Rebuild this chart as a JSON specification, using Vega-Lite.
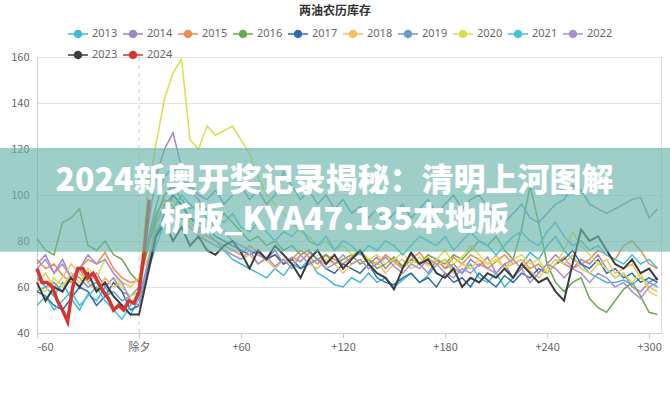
{
"$schema":"https://vega.github.io/schema/vega-lite/v6.json",
"autosize":{"type":"none"},
"padding":{"left":37,"top":57,"right":9,"bottom":67},
"width":624,"height":276,
"title":{"text":"两油农历库存","fontSize":12,"fontWeight":"bold","color":"#333","font":"Noto Sans CJK SC","anchor":"middle","dx":-14,"offset":6},
"config":{"view":{"stroke":"#dddddd"},"font":"Noto Sans CJK SC"},
"datasets":{
"lines":[
{"s":"2013","d":-60,"v":58},{"s":"2013","d":-55,"v":60},{"s":"2013","d":-50,"v":56},{"s":"2013","d":-45,"v":62},{"s":"2013","d":-40,"v":55},{"s":"2013","d":-35,"v":50},{"s":"2013","d":-30,"v":57},{"s":"2013","d":-25,"v":54},{"s":"2013","d":-20,"v":60},{"s":"2013","d":-15,"v":56},{"s":"2013","d":-10,"v":52},{"s":"2013","d":-5,"v":48},{"s":"2013","d":0,"v":55},
{"s":"2013","d":5,"v":70},{"s":"2013","d":10,"v":88},{"s":"2013","d":15,"v":96},{"s":"2013","d":20,"v":100},{"s":"2013","d":25,"v":95},{"s":"2013","d":30,"v":90},{"s":"2013","d":35,"v":86},{"s":"2013","d":40,"v":84},{"s":"2013","d":45,"v":80},{"s":"2013","d":50,"v":76},
{"s":"2013","d":55,"v":72},{"s":"2013","d":60,"v":70},{"s":"2013","d":65,"v":68},{"s":"2013","d":70,"v":66},{"s":"2013","d":75,"v":64},{"s":"2013","d":80,"v":68},{"s":"2013","d":85,"v":65},{"s":"2013","d":90,"v":70},{"s":"2013","d":95,"v":68},{"s":"2013","d":100,"v":72},
{"s":"2013","d":105,"v":66},{"s":"2013","d":110,"v":64},{"s":"2013","d":115,"v":61},{"s":"2013","d":120,"v":60},{"s":"2013","d":125,"v":64},{"s":"2013","d":130,"v":62},{"s":"2013","d":135,"v":66},{"s":"2013","d":140,"v":62},{"s":"2013","d":145,"v":64},{"s":"2013","d":150,"v":60},
{"s":"2013","d":155,"v":63},{"s":"2013","d":160,"v":66},{"s":"2013","d":165,"v":62},{"s":"2013","d":170,"v":65},{"s":"2013","d":175,"v":70},{"s":"2013","d":180,"v":72},{"s":"2013","d":185,"v":68},{"s":"2013","d":190,"v":66},{"s":"2013","d":195,"v":70},{"s":"2013","d":200,"v":64},
{"s":"2013","d":205,"v":62},{"s":"2013","d":210,"v":66},{"s":"2013","d":215,"v":60},{"s":"2013","d":220,"v":64},{"s":"2013","d":225,"v":70},{"s":"2013","d":230,"v":75},{"s":"2013","d":235,"v":72},{"s":"2013","d":240,"v":78},{"s":"2013","d":245,"v":82},{"s":"2013","d":250,"v":76},
{"s":"2013","d":255,"v":72},{"s":"2013","d":260,"v":70},{"s":"2013","d":265,"v":66},{"s":"2013","d":270,"v":64},{"s":"2013","d":275,"v":62},{"s":"2013","d":280,"v":62},{"s":"2013","d":285,"v":63},{"s":"2013","d":290,"v":61},{"s":"2013","d":295,"v":64},{"s":"2013","d":300,"v":62},{"s":"2013","d":305,"v":60},

{"s":"2014","d":-60,"v":70},{"s":"2014","d":-55,"v":74},{"s":"2014","d":-50,"v":66},{"s":"2014","d":-45,"v":72},{"s":"2014","d":-40,"v":64},{"s":"2014","d":-35,"v":68},{"s":"2014","d":-30,"v":62},{"s":"2014","d":-25,"v":66},{"s":"2014","d":-20,"v":60},{"s":"2014","d":-15,"v":64},{"s":"2014","d":-10,"v":58},{"s":"2014","d":-5,"v":56},{"s":"2014","d":0,"v":58},
{"s":"2014","d":5,"v":85},{"s":"2014","d":10,"v":108},{"s":"2014","d":15,"v":120},{"s":"2014","d":20,"v":127},{"s":"2014","d":25,"v":112},{"s":"2014","d":30,"v":102},{"s":"2014","d":35,"v":98},{"s":"2014","d":40,"v":92},{"s":"2014","d":45,"v":88},{"s":"2014","d":50,"v":84},
{"s":"2014","d":55,"v":80},{"s":"2014","d":60,"v":78},{"s":"2014","d":65,"v":76},{"s":"2014","d":70,"v":74},{"s":"2014","d":75,"v":72},{"s":"2014","d":80,"v":76},{"s":"2014","d":85,"v":70},{"s":"2014","d":90,"v":73},{"s":"2014","d":95,"v":71},{"s":"2014","d":100,"v":75},
{"s":"2014","d":105,"v":72},{"s":"2014","d":110,"v":70},{"s":"2014","d":115,"v":74},{"s":"2014","d":120,"v":68},{"s":"2014","d":125,"v":72},{"s":"2014","d":130,"v":75},{"s":"2014","d":135,"v":70},{"s":"2014","d":140,"v":73},{"s":"2014","d":145,"v":68},{"s":"2014","d":150,"v":72},
{"s":"2014","d":155,"v":69},{"s":"2014","d":160,"v":74},{"s":"2014","d":165,"v":70},{"s":"2014","d":170,"v":66},{"s":"2014","d":175,"v":72},{"s":"2014","d":180,"v":68},{"s":"2014","d":185,"v":70},{"s":"2014","d":190,"v":66},{"s":"2014","d":195,"v":72},{"s":"2014","d":200,"v":69},
{"s":"2014","d":205,"v":73},{"s":"2014","d":210,"v":66},{"s":"2014","d":215,"v":70},{"s":"2014","d":220,"v":64},{"s":"2014","d":225,"v":68},{"s":"2014","d":230,"v":72},{"s":"2014","d":235,"v":66},{"s":"2014","d":240,"v":70},{"s":"2014","d":245,"v":74},{"s":"2014","d":250,"v":70},
{"s":"2014","d":255,"v":68},{"s":"2014","d":260,"v":72},{"s":"2014","d":265,"v":70},{"s":"2014","d":270,"v":74},{"s":"2014","d":275,"v":68},{"s":"2014","d":280,"v":64},{"s":"2014","d":285,"v":66},{"s":"2014","d":290,"v":60},{"s":"2014","d":295,"v":58},{"s":"2014","d":300,"v":62},{"s":"2014","d":305,"v":64},

{"s":"2015","d":-60,"v":72},{"s":"2015","d":-55,"v":68},{"s":"2015","d":-50,"v":70},{"s":"2015","d":-45,"v":65},{"s":"2015","d":-40,"v":62},{"s":"2015","d":-35,"v":68},{"s":"2015","d":-30,"v":72},{"s":"2015","d":-25,"v":70},{"s":"2015","d":-20,"v":75},{"s":"2015","d":-15,"v":68},{"s":"2015","d":-10,"v":64},{"s":"2015","d":-5,"v":62},{"s":"2015","d":0,"v":63},
{"s":"2015","d":5,"v":78},{"s":"2015","d":10,"v":92},{"s":"2015","d":15,"v":98},{"s":"2015","d":20,"v":95},{"s":"2015","d":25,"v":90},{"s":"2015","d":30,"v":88},{"s":"2015","d":35,"v":85},{"s":"2015","d":40,"v":82},{"s":"2015","d":45,"v":80},{"s":"2015","d":50,"v":78},
{"s":"2015","d":55,"v":76},{"s":"2015","d":60,"v":74},{"s":"2015","d":65,"v":78},{"s":"2015","d":70,"v":75},{"s":"2015","d":75,"v":72},{"s":"2015","d":80,"v":74},{"s":"2015","d":85,"v":70},{"s":"2015","d":90,"v":72},{"s":"2015","d":95,"v":76},{"s":"2015","d":100,"v":73},
{"s":"2015","d":105,"v":70},{"s":"2015","d":110,"v":74},{"s":"2015","d":115,"v":72},{"s":"2015","d":120,"v":70},{"s":"2015","d":125,"v":73},{"s":"2015","d":130,"v":76},{"s":"2015","d":135,"v":72},{"s":"2015","d":140,"v":70},{"s":"2015","d":145,"v":74},{"s":"2015","d":150,"v":71},
{"s":"2015","d":155,"v":68},{"s":"2015","d":160,"v":72},{"s":"2015","d":165,"v":75},{"s":"2015","d":170,"v":70},{"s":"2015","d":175,"v":72},{"s":"2015","d":180,"v":68},{"s":"2015","d":185,"v":73},{"s":"2015","d":190,"v":70},{"s":"2015","d":195,"v":74},{"s":"2015","d":200,"v":72},
{"s":"2015","d":205,"v":68},{"s":"2015","d":210,"v":71},{"s":"2015","d":215,"v":74},{"s":"2015","d":220,"v":70},{"s":"2015","d":225,"v":72},{"s":"2015","d":230,"v":68},{"s":"2015","d":235,"v":70},{"s":"2015","d":240,"v":66},{"s":"2015","d":245,"v":70},{"s":"2015","d":250,"v":73},
{"s":"2015","d":255,"v":68},{"s":"2015","d":260,"v":70},{"s":"2015","d":265,"v":72},{"s":"2015","d":270,"v":76},{"s":"2015","d":275,"v":74},{"s":"2015","d":280,"v":72},{"s":"2015","d":285,"v":78},{"s":"2015","d":290,"v":80},{"s":"2015","d":295,"v":76},{"s":"2015","d":300,"v":70},{"s":"2015","d":305,"v":68},

{"s":"2016","d":-60,"v":81},{"s":"2016","d":-55,"v":76},{"s":"2016","d":-50,"v":74},{"s":"2016","d":-45,"v":88},{"s":"2016","d":-40,"v":90},{"s":"2016","d":-35,"v":94},{"s":"2016","d":-30,"v":78},{"s":"2016","d":-25,"v":76},{"s":"2016","d":-20,"v":80},{"s":"2016","d":-15,"v":74},{"s":"2016","d":-10,"v":72},{"s":"2016","d":-5,"v":66},{"s":"2016","d":0,"v":62},
{"s":"2016","d":5,"v":76},{"s":"2016","d":10,"v":90},{"s":"2016","d":15,"v":100},{"s":"2016","d":20,"v":104},{"s":"2016","d":25,"v":98},{"s":"2016","d":30,"v":94},{"s":"2016","d":35,"v":96},{"s":"2016","d":40,"v":90},{"s":"2016","d":45,"v":86},{"s":"2016","d":50,"v":92},
{"s":"2016","d":55,"v":88},{"s":"2016","d":60,"v":84},{"s":"2016","d":65,"v":80},{"s":"2016","d":70,"v":82},{"s":"2016","d":75,"v":78},{"s":"2016","d":80,"v":80},{"s":"2016","d":85,"v":76},{"s":"2016","d":90,"v":78},{"s":"2016","d":95,"v":74},{"s":"2016","d":100,"v":76},
{"s":"2016","d":105,"v":72},{"s":"2016","d":110,"v":74},{"s":"2016","d":115,"v":70},{"s":"2016","d":120,"v":72},{"s":"2016","d":125,"v":74},{"s":"2016","d":130,"v":70},{"s":"2016","d":135,"v":72},{"s":"2016","d":140,"v":68},{"s":"2016","d":145,"v":70},{"s":"2016","d":150,"v":73},
{"s":"2016","d":155,"v":69},{"s":"2016","d":160,"v":72},{"s":"2016","d":165,"v":70},{"s":"2016","d":170,"v":74},{"s":"2016","d":175,"v":72},{"s":"2016","d":180,"v":70},{"s":"2016","d":185,"v":74},{"s":"2016","d":190,"v":72},{"s":"2016","d":195,"v":76},{"s":"2016","d":200,"v":80},
{"s":"2016","d":205,"v":78},{"s":"2016","d":210,"v":82},{"s":"2016","d":215,"v":76},{"s":"2016","d":220,"v":72},{"s":"2016","d":225,"v":85},{"s":"2016","d":230,"v":104},{"s":"2016","d":235,"v":88},{"s":"2016","d":240,"v":70},{"s":"2016","d":245,"v":62},{"s":"2016","d":250,"v":58},
{"s":"2016","d":255,"v":62},{"s":"2016","d":260,"v":64},{"s":"2016","d":265,"v":55},{"s":"2016","d":270,"v":51},{"s":"2016","d":275,"v":49},{"s":"2016","d":280,"v":54},{"s":"2016","d":285,"v":59},{"s":"2016","d":290,"v":62},{"s":"2016","d":295,"v":56},{"s":"2016","d":300,"v":49},{"s":"2016","d":305,"v":48},

{"s":"2017","d":-60,"v":58},{"s":"2017","d":-55,"v":56},{"s":"2017","d":-50,"v":52},{"s":"2017","d":-45,"v":50},{"s":"2017","d":-40,"v":55},{"s":"2017","d":-35,"v":60},{"s":"2017","d":-30,"v":58},{"s":"2017","d":-25,"v":52},{"s":"2017","d":-20,"v":56},{"s":"2017","d":-15,"v":62},{"s":"2017","d":-10,"v":58},{"s":"2017","d":-5,"v":50},{"s":"2017","d":0,"v":52},
{"s":"2017","d":5,"v":68},{"s":"2017","d":10,"v":82},{"s":"2017","d":15,"v":92},{"s":"2017","d":20,"v":100},{"s":"2017","d":25,"v":96},{"s":"2017","d":30,"v":90},{"s":"2017","d":35,"v":88},{"s":"2017","d":40,"v":86},{"s":"2017","d":45,"v":82},{"s":"2017","d":50,"v":80},
{"s":"2017","d":55,"v":78},{"s":"2017","d":60,"v":76},{"s":"2017","d":65,"v":74},{"s":"2017","d":70,"v":76},{"s":"2017","d":75,"v":72},{"s":"2017","d":80,"v":74},{"s":"2017","d":85,"v":70},{"s":"2017","d":90,"v":72},{"s":"2017","d":95,"v":68},{"s":"2017","d":100,"v":70},
{"s":"2017","d":105,"v":72},{"s":"2017","d":110,"v":68},{"s":"2017","d":115,"v":66},{"s":"2017","d":120,"v":70},{"s":"2017","d":125,"v":68},{"s":"2017","d":130,"v":66},{"s":"2017","d":135,"v":70},{"s":"2017","d":140,"v":64},{"s":"2017","d":145,"v":62},{"s":"2017","d":150,"v":61},
{"s":"2017","d":155,"v":64},{"s":"2017","d":160,"v":66},{"s":"2017","d":165,"v":62},{"s":"2017","d":170,"v":64},{"s":"2017","d":175,"v":60},{"s":"2017","d":180,"v":66},{"s":"2017","d":185,"v":62},{"s":"2017","d":190,"v":64},{"s":"2017","d":195,"v":60},{"s":"2017","d":200,"v":66},
{"s":"2017","d":205,"v":63},{"s":"2017","d":210,"v":60},{"s":"2017","d":215,"v":65},{"s":"2017","d":220,"v":62},{"s":"2017","d":225,"v":66},{"s":"2017","d":230,"v":64},{"s":"2017","d":235,"v":68},{"s":"2017","d":240,"v":66},{"s":"2017","d":245,"v":70},{"s":"2017","d":250,"v":72},
{"s":"2017","d":255,"v":76},{"s":"2017","d":260,"v":70},{"s":"2017","d":265,"v":68},{"s":"2017","d":270,"v":72},{"s":"2017","d":275,"v":66},{"s":"2017","d":280,"v":68},{"s":"2017","d":285,"v":64},{"s":"2017","d":290,"v":66},{"s":"2017","d":295,"v":62},{"s":"2017","d":300,"v":64},{"s":"2017","d":305,"v":62},

{"s":"2018","d":-60,"v":62},{"s":"2018","d":-55,"v":66},{"s":"2018","d":-50,"v":60},{"s":"2018","d":-45,"v":64},{"s":"2018","d":-40,"v":70},{"s":"2018","d":-35,"v":66},{"s":"2018","d":-30,"v":62},{"s":"2018","d":-25,"v":58},{"s":"2018","d":-20,"v":64},{"s":"2018","d":-15,"v":60},{"s":"2018","d":-10,"v":62},{"s":"2018","d":-5,"v":60},{"s":"2018","d":0,"v":64},
{"s":"2018","d":5,"v":72},{"s":"2018","d":10,"v":85},{"s":"2018","d":15,"v":95},{"s":"2018","d":20,"v":98},{"s":"2018","d":25,"v":92},{"s":"2018","d":30,"v":88},{"s":"2018","d":35,"v":84},{"s":"2018","d":40,"v":80},{"s":"2018","d":45,"v":78},{"s":"2018","d":50,"v":76},
{"s":"2018","d":55,"v":74},{"s":"2018","d":60,"v":72},{"s":"2018","d":65,"v":74},{"s":"2018","d":70,"v":70},{"s":"2018","d":75,"v":72},{"s":"2018","d":80,"v":68},{"s":"2018","d":85,"v":72},{"s":"2018","d":90,"v":70},{"s":"2018","d":95,"v":74},{"s":"2018","d":100,"v":70},
{"s":"2018","d":105,"v":68},{"s":"2018","d":110,"v":72},{"s":"2018","d":115,"v":70},{"s":"2018","d":120,"v":66},{"s":"2018","d":125,"v":70},{"s":"2018","d":130,"v":72},{"s":"2018","d":135,"v":68},{"s":"2018","d":140,"v":71},{"s":"2018","d":145,"v":66},{"s":"2018","d":150,"v":70},
{"s":"2018","d":155,"v":72},{"s":"2018","d":160,"v":68},{"s":"2018","d":165,"v":70},{"s":"2018","d":170,"v":73},{"s":"2018","d":175,"v":69},{"s":"2018","d":180,"v":72},{"s":"2018","d":185,"v":66},{"s":"2018","d":190,"v":70},{"s":"2018","d":195,"v":68},{"s":"2018","d":200,"v":72},
{"s":"2018","d":205,"v":70},{"s":"2018","d":210,"v":74},{"s":"2018","d":215,"v":68},{"s":"2018","d":220,"v":70},{"s":"2018","d":225,"v":72},{"s":"2018","d":230,"v":67},{"s":"2018","d":235,"v":64},{"s":"2018","d":240,"v":68},{"s":"2018","d":245,"v":72},{"s":"2018","d":250,"v":70},
{"s":"2018","d":255,"v":74},{"s":"2018","d":260,"v":68},{"s":"2018","d":265,"v":66},{"s":"2018","d":270,"v":70},{"s":"2018","d":275,"v":72},{"s":"2018","d":280,"v":66},{"s":"2018","d":285,"v":68},{"s":"2018","d":290,"v":70},{"s":"2018","d":295,"v":64},{"s":"2018","d":300,"v":60},{"s":"2018","d":305,"v":58},

{"s":"2019","d":-60,"v":64},{"s":"2019","d":-55,"v":60},{"s":"2019","d":-50,"v":62},{"s":"2019","d":-45,"v":58},{"s":"2019","d":-40,"v":66},{"s":"2019","d":-35,"v":64},{"s":"2019","d":-30,"v":60},{"s":"2019","d":-25,"v":62},{"s":"2019","d":-20,"v":56},{"s":"2019","d":-15,"v":58},{"s":"2019","d":-10,"v":54},{"s":"2019","d":-5,"v":56},{"s":"2019","d":0,"v":60},
{"s":"2019","d":5,"v":80},{"s":"2019","d":10,"v":95},{"s":"2019","d":15,"v":108},{"s":"2019","d":20,"v":112},{"s":"2019","d":25,"v":106},{"s":"2019","d":30,"v":104},{"s":"2019","d":35,"v":100},{"s":"2019","d":40,"v":98},{"s":"2019","d":45,"v":102},{"s":"2019","d":50,"v":96},
{"s":"2019","d":55,"v":100},{"s":"2019","d":60,"v":104},{"s":"2019","d":65,"v":98},{"s":"2019","d":70,"v":102},{"s":"2019","d":75,"v":96},{"s":"2019","d":80,"v":100},{"s":"2019","d":85,"v":110},{"s":"2019","d":90,"v":104},{"s":"2019","d":95,"v":98},{"s":"2019","d":100,"v":102},
{"s":"2019","d":105,"v":96},{"s":"2019","d":110,"v":100},{"s":"2019","d":115,"v":94},{"s":"2019","d":120,"v":98},{"s":"2019","d":125,"v":92},{"s":"2019","d":130,"v":95},{"s":"2019","d":135,"v":90},{"s":"2019","d":140,"v":94},{"s":"2019","d":145,"v":88},{"s":"2019","d":150,"v":92},
{"s":"2019","d":155,"v":96},{"s":"2019","d":160,"v":90},{"s":"2019","d":165,"v":94},{"s":"2019","d":170,"v":98},{"s":"2019","d":175,"v":92},{"s":"2019","d":180,"v":96},{"s":"2019","d":185,"v":100},{"s":"2019","d":190,"v":94},{"s":"2019","d":195,"v":98},{"s":"2019","d":200,"v":100},
{"s":"2019","d":205,"v":95},{"s":"2019","d":210,"v":92},{"s":"2019","d":215,"v":88},{"s":"2019","d":220,"v":92},{"s":"2019","d":225,"v":96},{"s":"2019","d":230,"v":90},{"s":"2019","d":235,"v":88},{"s":"2019","d":240,"v":92},{"s":"2019","d":245,"v":96},{"s":"2019","d":250,"v":98},
{"s":"2019","d":255,"v":104},{"s":"2019","d":260,"v":102},{"s":"2019","d":265,"v":96},{"s":"2019","d":270,"v":94},{"s":"2019","d":275,"v":92},{"s":"2019","d":280,"v":94},{"s":"2019","d":285,"v":96},{"s":"2019","d":290,"v":98},{"s":"2019","d":295,"v":99},{"s":"2019","d":300,"v":90},{"s":"2019","d":305,"v":94},

{"s":"2020","d":-60,"v":60},{"s":"2020","d":-55,"v":58},{"s":"2020","d":-50,"v":64},{"s":"2020","d":-45,"v":60},{"s":"2020","d":-40,"v":66},{"s":"2020","d":-35,"v":62},{"s":"2020","d":-30,"v":68},{"s":"2020","d":-25,"v":64},{"s":"2020","d":-20,"v":72},{"s":"2020","d":-15,"v":66},{"s":"2020","d":-10,"v":60},{"s":"2020","d":-5,"v":56},{"s":"2020","d":0,"v":58},
{"s":"2020","d":5,"v":100},{"s":"2020","d":10,"v":122},{"s":"2020","d":15,"v":142},{"s":"2020","d":20,"v":153},{"s":"2020","d":25,"v":159},{"s":"2020","d":30,"v":124},{"s":"2020","d":35,"v":120},{"s":"2020","d":40,"v":130},{"s":"2020","d":45,"v":126},{"s":"2020","d":50,"v":128},
{"s":"2020","d":55,"v":130},{"s":"2020","d":60,"v":124},{"s":"2020","d":65,"v":118},{"s":"2020","d":70,"v":108},{"s":"2020","d":75,"v":100},{"s":"2020","d":80,"v":96},{"s":"2020","d":85,"v":92},{"s":"2020","d":90,"v":88},{"s":"2020","d":95,"v":84},{"s":"2020","d":100,"v":82},
{"s":"2020","d":105,"v":78},{"s":"2020","d":110,"v":80},{"s":"2020","d":115,"v":76},{"s":"2020","d":120,"v":78},{"s":"2020","d":125,"v":74},{"s":"2020","d":130,"v":76},{"s":"2020","d":135,"v":72},{"s":"2020","d":140,"v":74},{"s":"2020","d":145,"v":70},{"s":"2020","d":150,"v":72},
{"s":"2020","d":155,"v":75},{"s":"2020","d":160,"v":70},{"s":"2020","d":165,"v":73},{"s":"2020","d":170,"v":69},{"s":"2020","d":175,"v":72},{"s":"2020","d":180,"v":76},{"s":"2020","d":185,"v":70},{"s":"2020","d":190,"v":73},{"s":"2020","d":195,"v":78},{"s":"2020","d":200,"v":74},
{"s":"2020","d":205,"v":70},{"s":"2020","d":210,"v":72},{"s":"2020","d":215,"v":68},{"s":"2020","d":220,"v":72},{"s":"2020","d":225,"v":74},{"s":"2020","d":230,"v":70},{"s":"2020","d":235,"v":72},{"s":"2020","d":240,"v":66},{"s":"2020","d":245,"v":70},{"s":"2020","d":250,"v":76},
{"s":"2020","d":255,"v":84},{"s":"2020","d":260,"v":78},{"s":"2020","d":265,"v":74},{"s":"2020","d":270,"v":70},{"s":"2020","d":275,"v":68},{"s":"2020","d":280,"v":64},{"s":"2020","d":285,"v":66},{"s":"2020","d":290,"v":62},{"s":"2020","d":295,"v":66},{"s":"2020","d":300,"v":58},{"s":"2020","d":305,"v":56},

{"s":"2021","d":-60,"v":52},{"s":"2021","d":-55,"v":56},{"s":"2021","d":-50,"v":50},{"s":"2021","d":-45,"v":54},{"s":"2021","d":-40,"v":58},{"s":"2021","d":-35,"v":52},{"s":"2021","d":-30,"v":56},{"s":"2021","d":-25,"v":60},{"s":"2021","d":-20,"v":54},{"s":"2021","d":-15,"v":50},{"s":"2021","d":-10,"v":46},{"s":"2021","d":-5,"v":52},{"s":"2021","d":0,"v":56},
{"s":"2021","d":5,"v":66},{"s":"2021","d":10,"v":78},{"s":"2021","d":15,"v":88},{"s":"2021","d":20,"v":94},{"s":"2021","d":25,"v":100},{"s":"2021","d":30,"v":96},{"s":"2021","d":35,"v":92},{"s":"2021","d":40,"v":94},{"s":"2021","d":45,"v":90},{"s":"2021","d":50,"v":88},
{"s":"2021","d":55,"v":92},{"s":"2021","d":60,"v":86},{"s":"2021","d":65,"v":84},{"s":"2021","d":70,"v":88},{"s":"2021","d":75,"v":84},{"s":"2021","d":80,"v":80},{"s":"2021","d":85,"v":84},{"s":"2021","d":90,"v":82},{"s":"2021","d":95,"v":86},{"s":"2021","d":100,"v":80},
{"s":"2021","d":105,"v":78},{"s":"2021","d":110,"v":82},{"s":"2021","d":115,"v":76},{"s":"2021","d":120,"v":80},{"s":"2021","d":125,"v":78},{"s":"2021","d":130,"v":74},{"s":"2021","d":135,"v":78},{"s":"2021","d":140,"v":76},{"s":"2021","d":145,"v":80},{"s":"2021","d":150,"v":78},
{"s":"2021","d":155,"v":74},{"s":"2021","d":160,"v":78},{"s":"2021","d":165,"v":82},{"s":"2021","d":170,"v":80},{"s":"2021","d":175,"v":78},{"s":"2021","d":180,"v":82},{"s":"2021","d":185,"v":76},{"s":"2021","d":190,"v":80},{"s":"2021","d":195,"v":84},{"s":"2021","d":200,"v":80},
{"s":"2021","d":205,"v":78},{"s":"2021","d":210,"v":74},{"s":"2021","d":215,"v":78},{"s":"2021","d":220,"v":82},{"s":"2021","d":225,"v":84},{"s":"2021","d":230,"v":80},{"s":"2021","d":235,"v":78},{"s":"2021","d":240,"v":84},{"s":"2021","d":245,"v":88},{"s":"2021","d":250,"v":82},
{"s":"2021","d":255,"v":78},{"s":"2021","d":260,"v":80},{"s":"2021","d":265,"v":76},{"s":"2021","d":270,"v":78},{"s":"2021","d":275,"v":74},{"s":"2021","d":280,"v":72},{"s":"2021","d":285,"v":70},{"s":"2021","d":290,"v":74},{"s":"2021","d":295,"v":70},{"s":"2021","d":300,"v":72},{"s":"2021","d":305,"v":68},

{"s":"2022","d":-60,"v":68},{"s":"2022","d":-55,"v":72},{"s":"2022","d":-50,"v":66},{"s":"2022","d":-45,"v":70},{"s":"2022","d":-40,"v":64},{"s":"2022","d":-35,"v":68},{"s":"2022","d":-30,"v":74},{"s":"2022","d":-25,"v":70},{"s":"2022","d":-20,"v":72},{"s":"2022","d":-15,"v":66},{"s":"2022","d":-10,"v":62},{"s":"2022","d":-5,"v":54},{"s":"2022","d":0,"v":52},
{"s":"2022","d":5,"v":70},{"s":"2022","d":10,"v":84},{"s":"2022","d":15,"v":90},{"s":"2022","d":20,"v":94},{"s":"2022","d":25,"v":90},{"s":"2022","d":30,"v":86},{"s":"2022","d":35,"v":82},{"s":"2022","d":40,"v":80},{"s":"2022","d":45,"v":78},{"s":"2022","d":50,"v":76},
{"s":"2022","d":55,"v":74},{"s":"2022","d":60,"v":72},{"s":"2022","d":65,"v":76},{"s":"2022","d":70,"v":70},{"s":"2022","d":75,"v":73},{"s":"2022","d":80,"v":69},{"s":"2022","d":85,"v":72},{"s":"2022","d":90,"v":68},{"s":"2022","d":95,"v":74},{"s":"2022","d":100,"v":70},
{"s":"2022","d":105,"v":72},{"s":"2022","d":110,"v":68},{"s":"2022","d":115,"v":70},{"s":"2022","d":120,"v":74},{"s":"2022","d":125,"v":70},{"s":"2022","d":130,"v":72},{"s":"2022","d":135,"v":68},{"s":"2022","d":140,"v":70},{"s":"2022","d":145,"v":73},{"s":"2022","d":150,"v":69},
{"s":"2022","d":155,"v":66},{"s":"2022","d":160,"v":70},{"s":"2022","d":165,"v":68},{"s":"2022","d":170,"v":72},{"s":"2022","d":175,"v":70},{"s":"2022","d":180,"v":66},{"s":"2022","d":185,"v":64},{"s":"2022","d":190,"v":68},{"s":"2022","d":195,"v":66},{"s":"2022","d":200,"v":70},
{"s":"2022","d":205,"v":68},{"s":"2022","d":210,"v":66},{"s":"2022","d":215,"v":70},{"s":"2022","d":220,"v":72},{"s":"2022","d":225,"v":68},{"s":"2022","d":230,"v":62},{"s":"2022","d":235,"v":66},{"s":"2022","d":240,"v":70},{"s":"2022","d":245,"v":68},{"s":"2022","d":250,"v":64},
{"s":"2022","d":255,"v":68},{"s":"2022","d":260,"v":66},{"s":"2022","d":265,"v":62},{"s":"2022","d":270,"v":66},{"s":"2022","d":275,"v":64},{"s":"2022","d":280,"v":60},{"s":"2022","d":285,"v":62},{"s":"2022","d":290,"v":58},{"s":"2022","d":295,"v":55},{"s":"2022","d":300,"v":60},{"s":"2022","d":305,"v":62},

{"s":"2023","d":-60,"v":62},{"s":"2023","d":-55,"v":54},{"s":"2023","d":-50,"v":60},{"s":"2023","d":-45,"v":58},{"s":"2023","d":-40,"v":64},{"s":"2023","d":-35,"v":60},{"s":"2023","d":-30,"v":66},{"s":"2023","d":-25,"v":58},{"s":"2023","d":-20,"v":62},{"s":"2023","d":-15,"v":56},{"s":"2023","d":-10,"v":52},{"s":"2023","d":-5,"v":48},{"s":"2023","d":0,"v":48},
{"s":"2023","d":5,"v":65},{"s":"2023","d":10,"v":82},{"s":"2023","d":15,"v":88},{"s":"2023","d":20,"v":80},{"s":"2023","d":25,"v":86},{"s":"2023","d":30,"v":78},{"s":"2023","d":35,"v":82},{"s":"2023","d":40,"v":76},{"s":"2023","d":45,"v":74},{"s":"2023","d":50,"v":78},
{"s":"2023","d":55,"v":80},{"s":"2023","d":60,"v":75},{"s":"2023","d":65,"v":68},{"s":"2023","d":70,"v":76},{"s":"2023","d":75,"v":72},{"s":"2023","d":80,"v":78},{"s":"2023","d":85,"v":74},{"s":"2023","d":90,"v":70},{"s":"2023","d":95,"v":64},{"s":"2023","d":100,"v":72},
{"s":"2023","d":105,"v":76},{"s":"2023","d":110,"v":70},{"s":"2023","d":115,"v":74},{"s":"2023","d":120,"v":68},{"s":"2023","d":125,"v":72},{"s":"2023","d":130,"v":76},{"s":"2023","d":135,"v":70},{"s":"2023","d":140,"v":66},{"s":"2023","d":145,"v":64},{"s":"2023","d":150,"v":59},
{"s":"2023","d":155,"v":68},{"s":"2023","d":160,"v":75},{"s":"2023","d":165,"v":70},{"s":"2023","d":170,"v":72},{"s":"2023","d":175,"v":66},{"s":"2023","d":180,"v":64},{"s":"2023","d":185,"v":68},{"s":"2023","d":190,"v":60},{"s":"2023","d":195,"v":64},{"s":"2023","d":200,"v":62},
{"s":"2023","d":205,"v":66},{"s":"2023","d":210,"v":64},{"s":"2023","d":215,"v":68},{"s":"2023","d":220,"v":64},{"s":"2023","d":225,"v":70},{"s":"2023","d":230,"v":66},{"s":"2023","d":235,"v":62},{"s":"2023","d":240,"v":64},{"s":"2023","d":245,"v":58},{"s":"2023","d":250,"v":54},
{"s":"2023","d":255,"v":70},{"s":"2023","d":260,"v":85},{"s":"2023","d":265,"v":80},{"s":"2023","d":270,"v":82},{"s":"2023","d":275,"v":76},{"s":"2023","d":280,"v":70},{"s":"2023","d":285,"v":68},{"s":"2023","d":290,"v":72},{"s":"2023","d":295,"v":66},{"s":"2023","d":300,"v":68},{"s":"2023","d":305,"v":63},

{"s":"2024","d":-60,"v":68},{"s":"2024","d":-57,"v":62},{"s":"2024","d":-54,"v":62},{"s":"2024","d":-51,"v":60},{"s":"2024","d":-48,"v":54},{"s":"2024","d":-45,"v":50},{"s":"2024","d":-42,"v":45},{"s":"2024","d":-39,"v":60},{"s":"2024","d":-36,"v":68},{"s":"2024","d":-33,"v":68},{"s":"2024","d":-30,"v":64},{"s":"2024","d":-27,"v":66},{"s":"2024","d":-24,"v":62},{"s":"2024","d":-21,"v":58},{"s":"2024","d":-18,"v":55},{"s":"2024","d":-15,"v":50},{"s":"2024","d":-12,"v":52},{"s":"2024","d":-9,"v":50},{"s":"2024","d":-6,"v":54},{"s":"2024","d":-3,"v":53},{"s":"2024","d":0,"v":58},{"s":"2024","d":3,"v":75},{"s":"2024","d":6,"v":98}
],
"zero":[{"d":0}],
"band":[{"d":-82,"d2":313,"v":75.3,"v2":120.4}],
"words":[{"d":115,"v":106,"t":"2024新奥开奖记录揭秘：清明上河图解"},{"d":115,"v":89,"t":"析版_KYA47.135本地版"}]
},
"layer":[
{"data":{"name":"zero"},"mark":{"type":"rule","color":"#cccccc","strokeDash":[4,4],"strokeWidth":1},
 "encoding":{"x":{"field":"d","type":"quantitative"}}},
{"data":{"name":"lines"},"mark":{"type":"line","interpolate":"linear"},
 "encoding":{
  "x":{"field":"d","type":"quantitative","scale":{"domain":[-60,307],"nice":false,"zero":false},
   "axis":{"values":[-60,0,60,120,180,240,300],"grid":false,"domainColor":"#cccccc","tickColor":"#cccccc","tickSize":5,"labelColor":"#666666","labelFontSize":11,"labelPadding":3,"title":null,
   "labelExpr":"datum.value==0?'除夕':(datum.value>0?'+'+datum.value:''+datum.value)"}},
  "y":{"field":"v","type":"quantitative","scale":{"domain":[40,160],"nice":false,"zero":false},
   "axis":{"values":[40,60,80,100,120,140,160],"grid":true,"gridColor":"#e3e3e3","domainColor":"#cccccc","ticks":false,"labelColor":"#666666","labelFontSize":11,"labelPadding":8,"title":null}},
  "color":{"field":"s","type":"nominal",
   "scale":{"domain":["2013","2014","2015","2016","2017","2018","2019","2020","2021","2022","2023","2024"],
    "range":["#3fb8d8","#a184c8","#ef8a50","#6aa84f","#2e6cb4","#f3c05a","#6a9bcf","#dcdc4c","#48c0dc","#a891d2","#3c3c3c","#d9342b"]},
   "legend":{"title":null,"orient":"none","legendX":31,"legendY":-33,"direction":"horizontal","columns":10,
    "symbolType":"M-1,-0.08L1,-0.08L1,0.08L-1,0.08Z M0.42,0A0.42,0.42,0,1,1,-0.42,0A0.42,0.42,0,1,1,0.42,0Z",
    "symbolSize":400,"symbolStrokeWidth":0,"labelFontSize":11,"labelColor":"#666666","labelFont":"Noto Sans","labelOffset":4,"columnPadding":5,"rowPadding":6,
    "encode":{"symbols":{"update":{"fill":{"scale":"color","field":"value"},"fillOpacity":{"value":1}}}}}},
  "strokeWidth":{"condition":[{"test":"datum.s==='2024'","value":3.5},{"test":"datum.s==='2023'","value":2}],"value":1.5}
 }},
{"data":{"name":"band"},"mark":{"type":"rect","fill":"#68b5aa","opacity":0.65},
 "encoding":{"x":{"field":"d","type":"quantitative"},"x2":{"field":"d2"},"y":{"field":"v","type":"quantitative"},"y2":{"field":"v2"}}},
{"data":{"name":"words"},"mark":{"type":"text","color":"#ffffff","font":"Noto Sans CJK SC","fontWeight":900,"fontSize":32,"align":"center","baseline":"middle"},
 "encoding":{"x":{"field":"d","type":"quantitative"},"y":{"field":"v","type":"quantitative"},"text":{"field":"t"}}}
]
}
